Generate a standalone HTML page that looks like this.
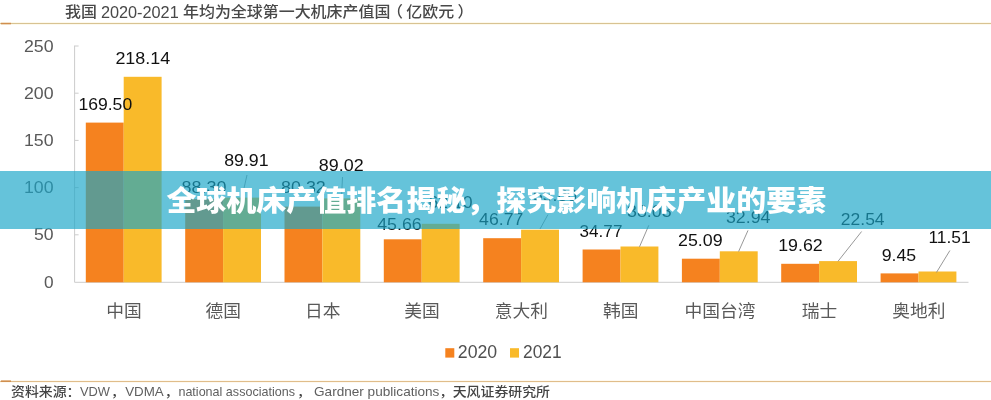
<!DOCTYPE html>
<html lang="zh-CN"><head><meta charset="utf-8"><title>全球机床产值排名揭秘，探究影响机床产业的要素</title>
<style>
html,body{margin:0;padding:0;background:#fff;}
body{width:991px;height:400px;overflow:hidden;position:relative;font-family:"Liberation Sans","Noto Sans CJK SC",sans-serif;}
svg{position:absolute;left:0;top:0;display:block;}
svg text{font-family:"Liberation Sans","Noto Sans CJK SC",sans-serif;}
svg .md text{font-family:"Liberation Sans","Noto Sans CJK SC Medium","Noto Sans CJK SC",sans-serif;}
.band{position:absolute;left:0;top:170.7px;width:991px;height:58px;background:rgba(25,165,200,0.67);}
.band h1{margin:0;padding:0;width:991px;text-align:center;font-family:"Liberation Sans","Noto Sans CJK SC Black","Noto Sans CJK SC",sans-serif;font-weight:900;font-size:28.6px;line-height:61px;text-indent:1.6px;transform:scaleX(1.049);transform-origin:50% 50%;color:#fff;white-space:nowrap;}
</style></head><body>
<svg width="991" height="400" viewBox="0 0 991 400">
<rect width="991" height="400" fill="#fff"/>
<rect x="0" y="22" width="991" height="3" fill="#FDF9EC"/>
<rect x="0" y="23" width="991" height="1" fill="#D8C392"/>
<rect x="1" y="22.8" width="10" height="1.5" fill="#D08E4E"/>
<g fill="#484848" class="md">
<text x="65.10" y="17.20" font-size="15.3" textLength="31.90" lengthAdjust="spacingAndGlyphs">我国</text>
<text x="100.90" y="18.00" font-size="15.8" textLength="77.80" lengthAdjust="spacingAndGlyphs">2020-2021</text>
<text x="183.00" y="17.20" font-size="15.3" textLength="207.35" lengthAdjust="spacingAndGlyphs">年均为全球第一大机床产值国</text>
<text x="387.05" y="17.20" font-size="15.3" textLength="15.95" lengthAdjust="spacingAndGlyphs">（</text>
<text x="406.30" y="17.20" font-size="15.3" textLength="47.85" lengthAdjust="spacingAndGlyphs">亿欧元</text>
<text x="457.45" y="17.20" font-size="15.3" textLength="15.95" lengthAdjust="spacingAndGlyphs">）</text>
</g>
<g stroke="#CCCCCC" stroke-width="1" fill="none">
<path d="M74.6 45.6 V282.3 H968.5"/>
<path d="M74.6 46.0 h4"/>
<path d="M74.6 93.2 h4"/>
<path d="M74.6 140.4 h4"/>
<path d="M74.6 187.6 h4"/>
<path d="M74.6 234.8 h4"/>
</g>
<g fill="#595959">
<text x="53.60" y="51.60" font-size="16.2" text-anchor="end" textLength="29.60" lengthAdjust="spacingAndGlyphs">250</text>
<text x="53.60" y="98.80" font-size="16.2" text-anchor="end" textLength="29.60" lengthAdjust="spacingAndGlyphs">200</text>
<text x="53.60" y="146.00" font-size="16.2" text-anchor="end" textLength="29.60" lengthAdjust="spacingAndGlyphs">150</text>
<text x="53.60" y="193.20" font-size="16.2" text-anchor="end" textLength="29.60" lengthAdjust="spacingAndGlyphs">100</text>
<text x="53.60" y="240.40" font-size="16.2" text-anchor="end" textLength="19.60" lengthAdjust="spacingAndGlyphs">50</text>
<text x="53.60" y="287.60" font-size="16.2" text-anchor="end" textLength="9.60" lengthAdjust="spacingAndGlyphs">0</text>
</g>
<rect x="85.8" y="122.6" width="37.9" height="159.7" fill="#F5821F"/>
<rect x="123.7" y="76.8" width="37.9" height="205.5" fill="#F9BA2A"/>
<rect x="185.2" y="199.1" width="37.9" height="83.2" fill="#F5821F"/>
<rect x="223.1" y="197.6" width="37.9" height="84.7" fill="#F9BA2A"/>
<rect x="284.5" y="206.6" width="37.9" height="75.7" fill="#F5821F"/>
<rect x="322.4" y="198.4" width="37.9" height="83.9" fill="#F9BA2A"/>
<rect x="383.8" y="239.3" width="37.9" height="43.0" fill="#F5821F"/>
<rect x="421.7" y="223.8" width="37.9" height="58.5" fill="#F9BA2A"/>
<rect x="483.2" y="238.2" width="37.9" height="44.1" fill="#F5821F"/>
<rect x="521.1" y="229.7" width="37.9" height="52.6" fill="#F9BA2A"/>
<rect x="582.6" y="249.5" width="37.9" height="32.8" fill="#F5821F"/>
<rect x="620.5" y="246.5" width="37.9" height="35.8" fill="#F9BA2A"/>
<rect x="681.9" y="258.7" width="37.9" height="23.6" fill="#F5821F"/>
<rect x="719.8" y="251.3" width="37.9" height="31.0" fill="#F9BA2A"/>
<rect x="781.2" y="263.8" width="37.9" height="18.5" fill="#F5821F"/>
<rect x="819.1" y="261.1" width="37.9" height="21.2" fill="#F9BA2A"/>
<rect x="880.6" y="273.4" width="37.9" height="8.9" fill="#F5821F"/>
<rect x="918.5" y="271.5" width="37.9" height="10.8" fill="#F9BA2A"/>
<g stroke="#8c8c8c" stroke-width="0.9" fill="none">
<path d="M247 175 L242 197"/>
<path d="M342.5 177 L341.5 197"/>
<path d="M548 214.5 L540 229"/>
<path d="M648.8 225.3 L639.5 246.8"/>
<path d="M748 230.4 L738.6 251.5"/>
<path d="M861.6 231.5 L838 261.3"/>
<path d="M949.9 250.5 L936.5 272.4"/>
</g>
<g fill="#111">
<text x="105.30" y="109.60" font-size="17" text-anchor="middle" textLength="53.80" lengthAdjust="spacingAndGlyphs">169.50</text>
<text x="142.80" y="63.50" font-size="17" text-anchor="middle" textLength="54.80" lengthAdjust="spacingAndGlyphs">218.14</text>
<text x="204.10" y="193.00" font-size="17" text-anchor="middle" textLength="45.00" lengthAdjust="spacingAndGlyphs">88.30</text>
<text x="246.40" y="166.00" font-size="17" text-anchor="middle" textLength="44.40" lengthAdjust="spacingAndGlyphs">89.91</text>
<text x="303.40" y="192.50" font-size="17" text-anchor="middle" textLength="44.80" lengthAdjust="spacingAndGlyphs">80.32</text>
<text x="341.20" y="171.10" font-size="17" text-anchor="middle" textLength="44.80" lengthAdjust="spacingAndGlyphs">89.02</text>
<text x="399.50" y="229.60" font-size="17" text-anchor="middle" textLength="44.60" lengthAdjust="spacingAndGlyphs">45.66</text>
<text x="450.50" y="208.00" font-size="17" text-anchor="middle" textLength="44.20" lengthAdjust="spacingAndGlyphs">62.10</text>
<text x="501.20" y="225.00" font-size="17" text-anchor="middle" textLength="44.20" lengthAdjust="spacingAndGlyphs">46.77</text>
<text x="555.00" y="201.00" font-size="17" text-anchor="middle" textLength="44.20" lengthAdjust="spacingAndGlyphs">55.80</text>
<text x="601.00" y="237.40" font-size="17" text-anchor="middle" textLength="42.80" lengthAdjust="spacingAndGlyphs">34.77</text>
<text x="649.30" y="217.20" font-size="17" text-anchor="middle" textLength="44.60" lengthAdjust="spacingAndGlyphs">38.03</text>
<text x="700.30" y="246.00" font-size="17" text-anchor="middle" textLength="44.60" lengthAdjust="spacingAndGlyphs">25.09</text>
<text x="748.20" y="222.80" font-size="17" text-anchor="middle" textLength="44.60" lengthAdjust="spacingAndGlyphs">32.94</text>
<text x="800.50" y="251.20" font-size="17" text-anchor="middle" textLength="44.60" lengthAdjust="spacingAndGlyphs">19.62</text>
<text x="862.70" y="225.20" font-size="17" text-anchor="middle" textLength="43.80" lengthAdjust="spacingAndGlyphs">22.54</text>
<text x="898.95" y="260.50" font-size="17" text-anchor="middle" textLength="34.50" lengthAdjust="spacingAndGlyphs">9.45</text>
<text x="949.50" y="242.90" font-size="17" text-anchor="middle" textLength="42.20" lengthAdjust="spacingAndGlyphs">11.51</text>
</g>
<g fill="#595959">
<text x="124.00" y="316.80" font-size="17.2" text-anchor="middle" textLength="35.50" lengthAdjust="spacingAndGlyphs">中国</text>
<text x="223.35" y="316.80" font-size="17.2" text-anchor="middle" textLength="35.50" lengthAdjust="spacingAndGlyphs">德国</text>
<text x="322.70" y="316.80" font-size="17.2" text-anchor="middle" textLength="35.50" lengthAdjust="spacingAndGlyphs">日本</text>
<text x="422.05" y="316.80" font-size="17.2" text-anchor="middle" textLength="35.50" lengthAdjust="spacingAndGlyphs">美国</text>
<text x="521.40" y="316.80" font-size="17.2" text-anchor="middle" textLength="53.25" lengthAdjust="spacingAndGlyphs">意大利</text>
<text x="620.75" y="316.80" font-size="17.2" text-anchor="middle" textLength="35.50" lengthAdjust="spacingAndGlyphs">韩国</text>
<text x="720.10" y="316.80" font-size="17.2" text-anchor="middle" textLength="71.00" lengthAdjust="spacingAndGlyphs">中国台湾</text>
<text x="819.45" y="316.80" font-size="17.2" text-anchor="middle" textLength="35.50" lengthAdjust="spacingAndGlyphs">瑞士</text>
<text x="918.80" y="316.80" font-size="17.2" text-anchor="middle" textLength="53.25" lengthAdjust="spacingAndGlyphs">奥地利</text>
</g>
<rect x="445.3" y="348.2" width="9" height="9.4" fill="#F5821F"/>
<text x="457.80" y="358.30" font-size="17.5" textLength="39.40" lengthAdjust="spacingAndGlyphs" fill="#505050">2020</text>
<rect x="510" y="348.2" width="9" height="9.4" fill="#F9BA2A"/>
<text x="523.00" y="358.30" font-size="17.5" textLength="38.60" lengthAdjust="spacingAndGlyphs" fill="#505050">2021</text>
<rect x="0" y="380" width="991" height="3" fill="#FEF9F0"/>
<rect x="0" y="381" width="991" height="1" fill="#E0BD8A"/>
<rect x="1" y="380.4" width="10" height="1.6" fill="#D08E4E"/>
<g fill="#444" class="md">
<text x="11.00" y="396.40" font-size="12.8" textLength="69.50" lengthAdjust="spacingAndGlyphs">资料来源：</text>
<text x="110.90" y="396.40" font-size="12.8" textLength="13.90" lengthAdjust="spacingAndGlyphs">，</text>
<text x="164.80" y="396.40" font-size="12.8" textLength="13.90" lengthAdjust="spacingAndGlyphs">，</text>
<text x="297.10" y="396.40" font-size="12.8" textLength="13.90" lengthAdjust="spacingAndGlyphs">，</text>
<text x="439.40" y="396.40" font-size="12.8" textLength="13.90" lengthAdjust="spacingAndGlyphs">，</text>
<text x="452.70" y="396.40" font-size="12.8" textLength="97.30" lengthAdjust="spacingAndGlyphs">天风证券研究所</text>
</g>
<g fill="#606060">
<text x="79.90" y="396.40" font-size="13.4" textLength="30.00" lengthAdjust="spacingAndGlyphs">VDW</text>
<text x="125.20" y="396.40" font-size="13.4" textLength="38.60" lengthAdjust="spacingAndGlyphs">VDMA</text>
<text x="178.40" y="396.40" font-size="13.4" textLength="116.60" lengthAdjust="spacingAndGlyphs">national associations</text>
<text x="314.00" y="396.40" font-size="13.4" textLength="125.40" lengthAdjust="spacingAndGlyphs">Gardner publications</text>
</g>
</svg>
<div class="band"><h1>全球机床产值排名揭秘，探究影响机床产业的要素</h1></div>
</body></html>
